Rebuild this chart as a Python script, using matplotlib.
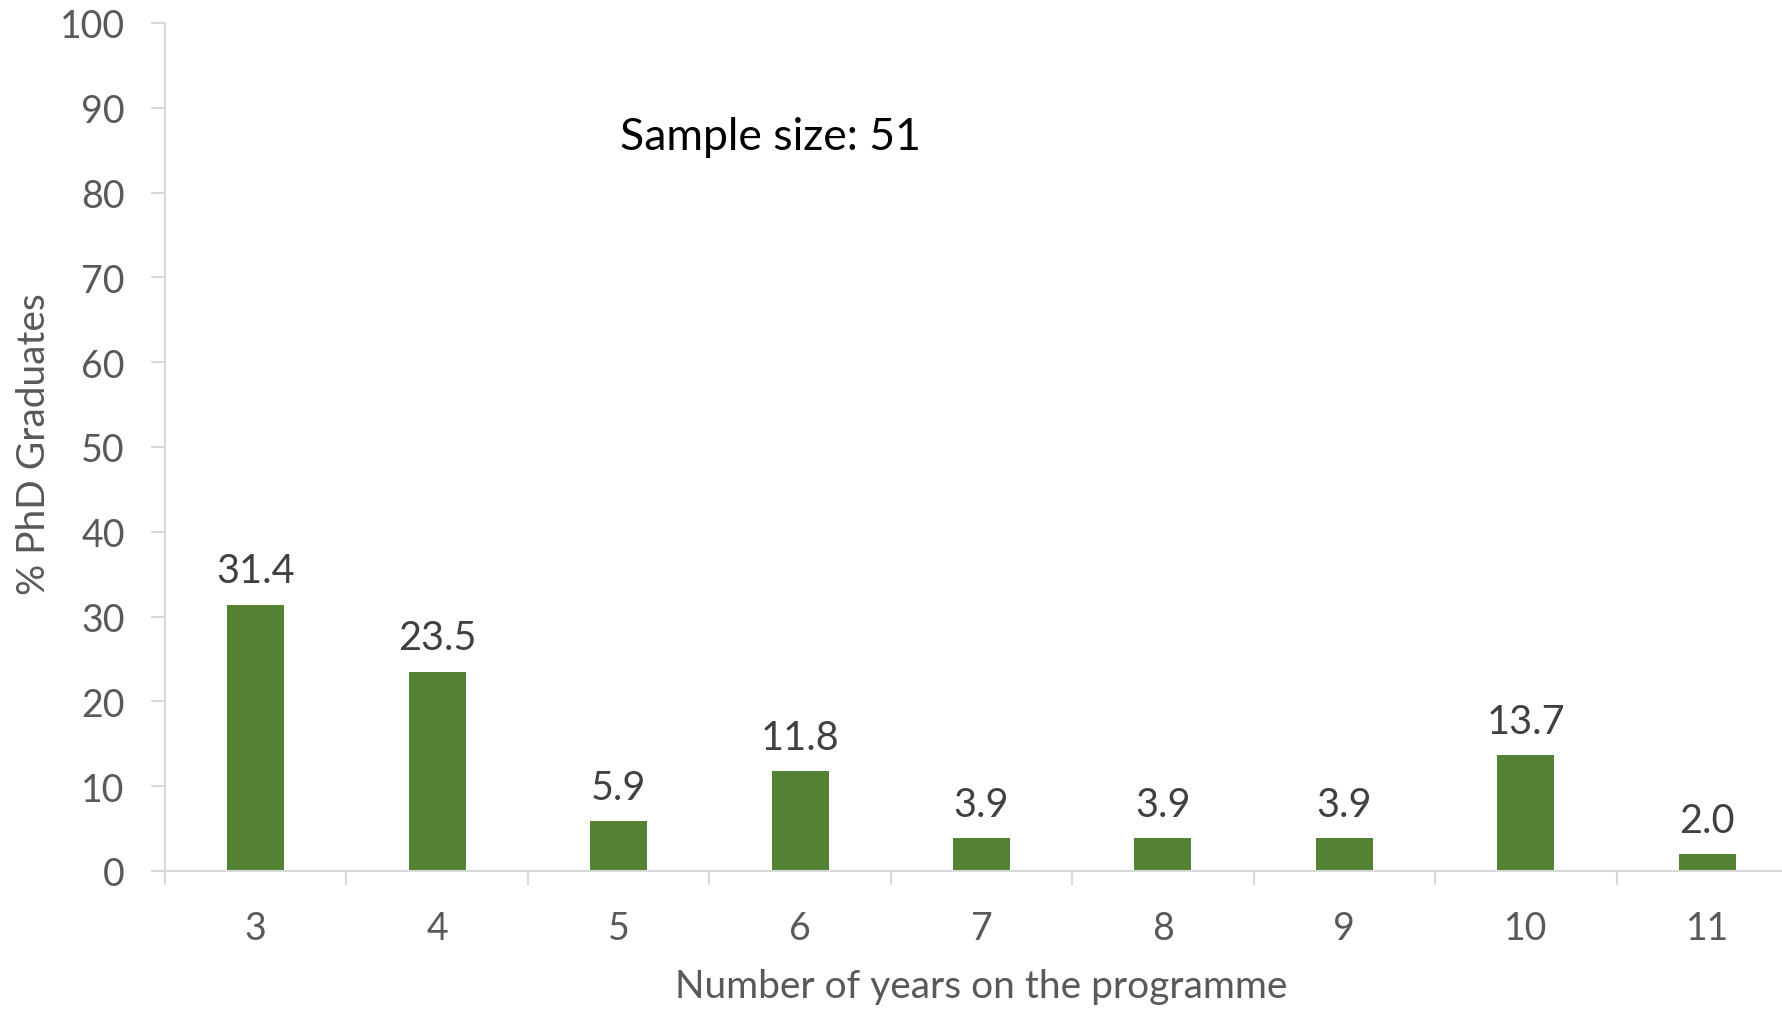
import matplotlib
matplotlib.use("Agg")
import matplotlib.pyplot as plt
from matplotlib.ticker import FixedLocator

plt.rcParams['font.family'] = ['Lato', 'DejaVu Sans']

years = ["3", "4", "5", "6", "7", "8", "9", "10", "11"]
percent = [31.4, 23.5, 5.9, 11.8, 3.9, 3.9, 3.9, 13.7, 2.0]
y_ticks = [0, 10, 20, 30, 40, 50, 60, 70, 80, 90, 100]

W, H = 1782, 1012
fig = plt.figure(figsize=(W / 100, H / 100), dpi=100)
ax = fig.add_axes([165 / W, (H - 872) / H, 1633 / W, 848 / H])

bar_color = "#548235"
spine_color = "#D9D9D9"
tick_text = "#595959"

x = list(range(len(years)))
bars = ax.bar(x, percent, width=0.314, color=bar_color, zorder=2)

for xi, v in zip(x, percent):
    ax.annotate(f"{v:.1f}", (xi, v), xytext=(0, 11), textcoords="offset points",
                ha="center", va="bottom", fontsize=28.5, color="#404040")

ax.set_xlim(-0.5, len(years) - 0.5)
ax.set_ylim(0, 100)
ax.set_yticks(y_ticks)
ax.set_xticks(x)
ax.set_xticklabels(years)
ax.xaxis.set_minor_locator(FixedLocator([i - 0.5 for i in range(len(years) + 1)]))

for side in ("top", "right"):
    ax.spines[side].set_visible(False)
for side in ("left", "bottom"):
    ax.spines[side].set_color(spine_color)
    ax.spines[side].set_linewidth(1.5)

ax.tick_params(axis="x", which="major", length=0, pad=28, labelsize=27, labelcolor=tick_text)
ax.tick_params(axis="x", which="minor", length=10, width=1.5, color=spine_color)
ax.tick_params(axis="y", which="major", length=10, width=1.5, color=spine_color,
               pad=19, labelsize=27, labelcolor=tick_text)

ax.set_ylabel("% PhD Graduates", fontsize=28, color=tick_text, va="center")
ax.yaxis.set_label_coords(-0.080, 0.505)
ax.set_xlabel("Number of years on the programme", fontsize=28, color=tick_text, va="center")
ax.xaxis.set_label_coords(0.5, -0.1356)

ax.text(2.01, 86.6, "Sample size: 51", fontsize=32, color="black", ha="left", va="center")

fig.savefig("out.png", dpi=100)
